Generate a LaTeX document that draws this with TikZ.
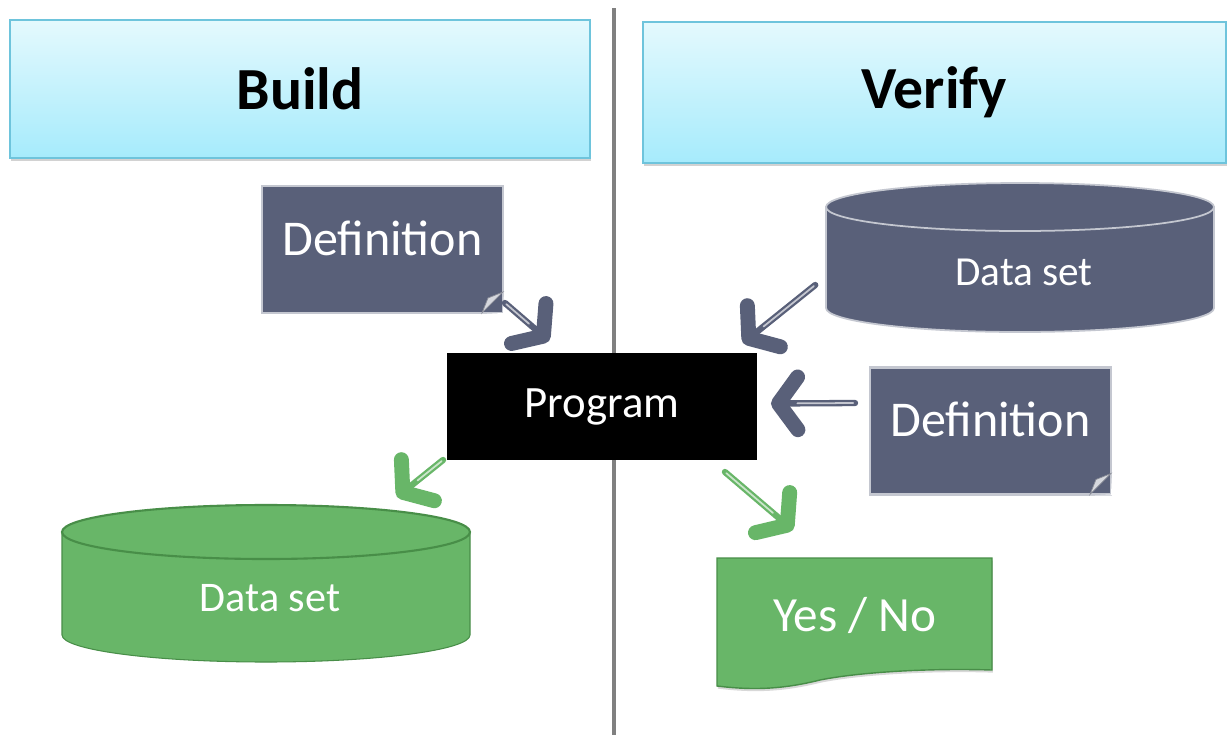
\documentclass[tikz,border=0pt]{standalone}
\usepackage{fontspec}
\setmainfont{Carlito}
\usetikzlibrary{arrows.meta,calc,shadows}
\definecolor{slate}{RGB}{89,96,121}
\definecolor{slateedge}{RGB}{196,199,208}
\definecolor{slatedark}{RGB}{55,60,78}
\definecolor{leaf}{RGB}{104,182,104}
\definecolor{leafedge}{RGB}{72,142,72}
\definecolor{skytop}{RGB}{228,249,253}
\definecolor{skybot}{RGB}{166,235,252}
\definecolor{skyedge}{RGB}{110,196,220}
\definecolor{divider}{RGB}{128,128,128}

\begin{document}
\begin{tikzpicture}[x=0.02cm,y=0.02cm,
  every node/.style={inner sep=0pt, outer sep=0pt},
  header/.style={rectangle, top color=skytop, bottom color=skybot,
    draw=skyedge, line width=0.7pt,
    drop shadow={opacity=0.35, shadow xshift=0.5pt, shadow yshift=-1.5pt},
    font=\fontsize{34}{40}\selectfont\bfseries},
  note/.style={rectangle, fill=slate, draw=slateedge, line width=1.3pt,
    text=white, font=\fontsize{28.5}{32}\selectfont,
    minimum width=4.82cm, minimum height=2.54cm, text depth=13pt},
  prog/.style={rectangle, fill=black, text=white,
    font=\fontsize{25.5}{30}\selectfont,
    minimum width=6.2cm, minimum height=2.14cm},
  label/.style={text=white, font=\fontsize{24}{28}\selectfont},
  flow/.style={line width=3.6pt, line cap=round,
    -{Straight Barb[length=11pt, width=30pt, line width=8.5pt, round]},
    postaction={draw=#1!35!white, line width=1pt, shorten >=15pt, shorten <=1pt, -}},
  slateflow/.style={flow=slate, draw=slate},
  leafflow/.style={flow=leaf, draw=leaf},
]
\useasboundingbox (0,0) rectangle (1228,-735);
\fill[white] (0,0) rectangle (1228,-735);

% column divider
\draw[divider, line width=2.8pt] (614,-8) -- (614,-735);

% column headers
\node[header, minimum width=11.6cm, minimum height=2.76cm] (build) at (300,-89) {Build};
\node[header, minimum width=11.66cm, minimum height=2.82cm] (verify) at (934.5,-92.5) {Verify};

% central program
\node[prog] (prog) at (602,-406.5) {Program};

% definition notes with a curled corner
\node[note] (defL) at (382.5,-249.5) {Definition};
\node[note] (defR) at (990.5,-431) {Definition};
\foreach \n in {defL,defR}{
  \fill[white] (\n.south east) -- ++(-21,-1) -- ++(22,0) -- ++(0,22) -- cycle;
  \filldraw[fill=slateedge!70!white, draw=slatedark!60, line width=0.4pt]
    ($(\n.south east)+(-21,0)$) -- ($(\n.south east)+(0,21)$) -- ($(\n.south east)+(-15,15)$) -- cycle;
}

% data set drums
\path[fill=leaf, draw=leafedge, line width=0.6pt]
  (62,-532) -- (62,-635) arc[start angle=180, end angle=360, x radius=204, y radius=27]
  -- (470,-532) -- cycle;
\filldraw[fill=leaf, draw=leafedge, line width=1.2pt] (266,-532) ellipse[x radius=204, y radius=27];
\node[label] (dsL) at (270,-598) {Data set};

\path[fill=slate, draw=slateedge, line width=1pt]
  (826,-207) -- (826,-308) arc[start angle=180, end angle=360, x radius=194, y radius=24]
  -- (1214,-207) -- cycle;
\filldraw[fill=slate, draw=slateedge, line width=1pt] (1020,-207) ellipse[x radius=194, y radius=24];
\node[label, font=\fontsize{23.5}{28}\selectfont] (dsR) at (1024,-272) {Data set};

% yes / no outcome
\filldraw[fill=leaf, draw=leafedge, line width=0.8pt,
  drop shadow={opacity=0.3, shadow xshift=0.5pt, shadow yshift=-1.5pt}]
  (717,-558) -- (992,-558) -- (992,-670)
  .. controls (930,-668) and (860,-672) .. (820,-680)
  .. controls (780,-690) and (750,-690) .. (717,-686) -- cycle;
\node[label, font=\fontsize{28}{32}\selectfont] (yn) at (855,-615) {Yes / No};

% connectors
\coordinate (a1s) at ($(defL.south east)+(2,10)$);
\coordinate (a1e) at ($(prog.north west)+(102,12)$);
\coordinate (a2s) at ($(dsR.west)+(-140,-13)$);
\coordinate (a2e) at ($(prog.north east)+(-14,10)$);
\coordinate (a3s) at ($(defR.west)+(-15,28)$);
\coordinate (a3e) at ($(prog.east)+(14,3)$);
\coordinate (a4s) at ($(prog.south west)+(-4,0)$);
\coordinate (a4e) at ($(prog.south west)+(-50,-37)$);
\coordinate (a5s) at ($(prog.south east)+(-32,-12)$);
\coordinate (a5e) at ($(prog.south east)+(36,-70)$);

\draw[slateflow] (a1s) -- (a1e);
\draw[slateflow] (a2s) -- (a2e);
\draw[slateflow] (a3s) -- (a3e);
\draw[leafflow] (a4s) -- (a4e);
\draw[leafflow] (a5s) -- (a5e);
\end{tikzpicture}
\end{document}
